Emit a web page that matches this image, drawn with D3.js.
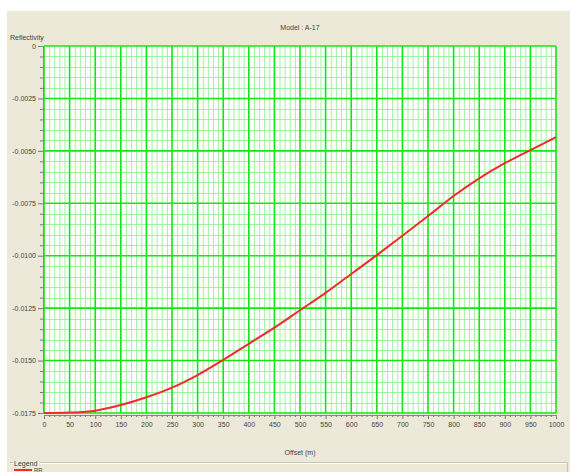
<!DOCTYPE html>
<html><head><meta charset="utf-8">
<script src="https://cdn.jsdelivr.net/npm/d3@7"></script>
<style>
html,body{margin:0;padding:0;background:#fff;}
svg{display:block;}
text{font-family:"Liberation Sans",Arial,sans-serif;fill:#444;}
</style></head>
<body>
<svg id="c" width="570" height="472"></svg>
<script>
const offsets = [0,50,100,150,200,250,300,350,400,450,500,550,600,650,700,750,800,850,900,950,1000];
const reflectivity = [-0.01750,-0.01748,-0.01739,-0.01712,-0.01675,-0.01629,-0.01569,-0.01497,-0.01420,-0.01343,-0.01260,-0.01177,-0.01087,-0.00997,-0.00905,-0.00811,-0.00715,-0.00631,-0.00559,-0.00496,-0.00435];
const yTickValues = [0,-0.0025,-0.005,-0.0075,-0.01,-0.0125,-0.015,-0.0175];
const yTickLabels = ["0","-0.0025","-0.0050","-0.0075","-0.0100","-0.0125","-0.0150","-0.0175"];
const xTickValues = [0,50,100,150,200,250,300,350,400,450,500,550,600,650,700,750,800,850,900,950,1000];
const titleText = "Model : A-17";
const xTitle = "Offset (m)";
const yTitle = "Reflectivity";
const legendTitle = "Legend";
const seriesName = "RR";

const svg = d3.select("#c");
const W=570,H=472;
const L=44,R=556,T=46,B=413;

svg.append("rect").attr("x",0).attr("y",0).attr("width",W).attr("height",H).attr("fill","#fff");
svg.append("rect").attr("x",7).attr("y",11).attr("width",W-7).attr("height",H-11).attr("fill","#ECE9D8");

const x = d3.scaleLinear().domain([0,1000]).range([L,R]);
const y = d3.scaleLinear().domain([-0.0175,0]).range([B,T]);

svg.append("rect").attr("x",L).attr("y",T).attr("width",R-L).attr("height",B-T).attr("fill","#fff");

const g = svg.append("g");
const xMinor = d3.range(0,1001,10).filter(v=>v%50!==0);
const yMinor = d3.range(0,36).map(i=>-i*0.0005).filter((v,i)=>i%5!==0);
g.selectAll(".vx").data(xMinor).join("line")
 .attr("x1",d=>x(d)+0.5).attr("x2",d=>x(d)+0.5).attr("y1",T).attr("y2",B)
 .attr("stroke","#9cf59c").attr("stroke-width",1);
g.selectAll(".hy").data(yMinor).join("line")
 .attr("y1",d=>Math.round(y(d))+0.5).attr("y2",d=>Math.round(y(d))+0.5).attr("x1",L).attr("x2",R)
 .attr("stroke","#9cf59c").attr("stroke-width",1);
g.selectAll(".VX").data(xTickValues).join("line")
 .attr("x1",d=>x(d)).attr("x2",d=>x(d)).attr("y1",T).attr("y2",B)
 .attr("stroke","#14e614").attr("stroke-width",1.6);
g.selectAll(".HY").data(yTickValues).join("line")
 .attr("y1",d=>y(d)).attr("y2",d=>y(d)).attr("x1",L).attr("x2",R)
 .attr("stroke","#14e614").attr("stroke-width",1.6);

const yAxis = d3.axisLeft(y).tickValues(yTickValues).tickFormat((d,i)=>yTickLabels[i]).tickSize(5).tickPadding(2);
svg.append("g").attr("transform",`translate(${L-1},0)`).call(yAxis);
const yMinorAxis = d3.axisLeft(y).tickValues(yMinor).tickFormat("").tickSize(3);
svg.append("g").attr("transform",`translate(${L-1},0)`).call(yMinorAxis);

const xAxis = d3.axisBottom(x).tickValues(xTickValues).tickFormat(d3.format("d")).tickSize(4).tickPadding(3);
svg.append("g").attr("transform",`translate(0,${B+2})`).call(xAxis);
const xMinorAxis = d3.axisBottom(x).tickValues(xMinor).tickFormat("").tickSize(2);
svg.append("g").attr("transform",`translate(0,${B+2})`).call(xMinorAxis);

svg.selectAll(".domain").attr("stroke","#888");
svg.selectAll(".tick line").attr("stroke","#777");
svg.selectAll(".tick text").attr("font-size",7).attr("fill","#444").attr("font-family","Liberation Sans, Arial, sans-serif");

const line = d3.line().x((d,i)=>x(offsets[i])).y(d=>y(d)).curve(d3.curveCatmullRom);
svg.append("path").datum(reflectivity).attr("d",line)
 .attr("fill","none").attr("stroke","#f52a2a").attr("stroke-width",2);

svg.append("text").attr("x",(L+R)/2).attr("y",30).attr("text-anchor","middle").attr("font-size",7).text(titleText);
svg.append("text").attr("x",10).attr("y",40).attr("font-size",7).text(yTitle);
svg.append("text").attr("x",(L+R)/2).attr("y",455).attr("text-anchor","middle").attr("font-size",7).text(xTitle);

svg.append("path").attr("d",`M10,462.5 H567.5 V472`).attr("fill","none").attr("stroke","#c8c5b6").attr("stroke-width",1);
svg.append("path").attr("d",`M11,463.5 H566.5`).attr("fill","none").attr("stroke","#fff").attr("stroke-width",1);
svg.append("rect").attr("x",13).attr("y",458).attr("width",27).attr("height",8).attr("fill","#ECE9D8");
svg.append("text").attr("x",14).attr("y",466).attr("font-size",7).text(legendTitle);
svg.append("line").attr("x1",14).attr("x2",32).attr("y1",470).attr("y2",470).attr("stroke","#f52a2a").attr("stroke-width",2);
svg.append("text").attr("x",34).attr("y",471.5).attr("font-size",6).text(seriesName);
</script>
</body></html>
